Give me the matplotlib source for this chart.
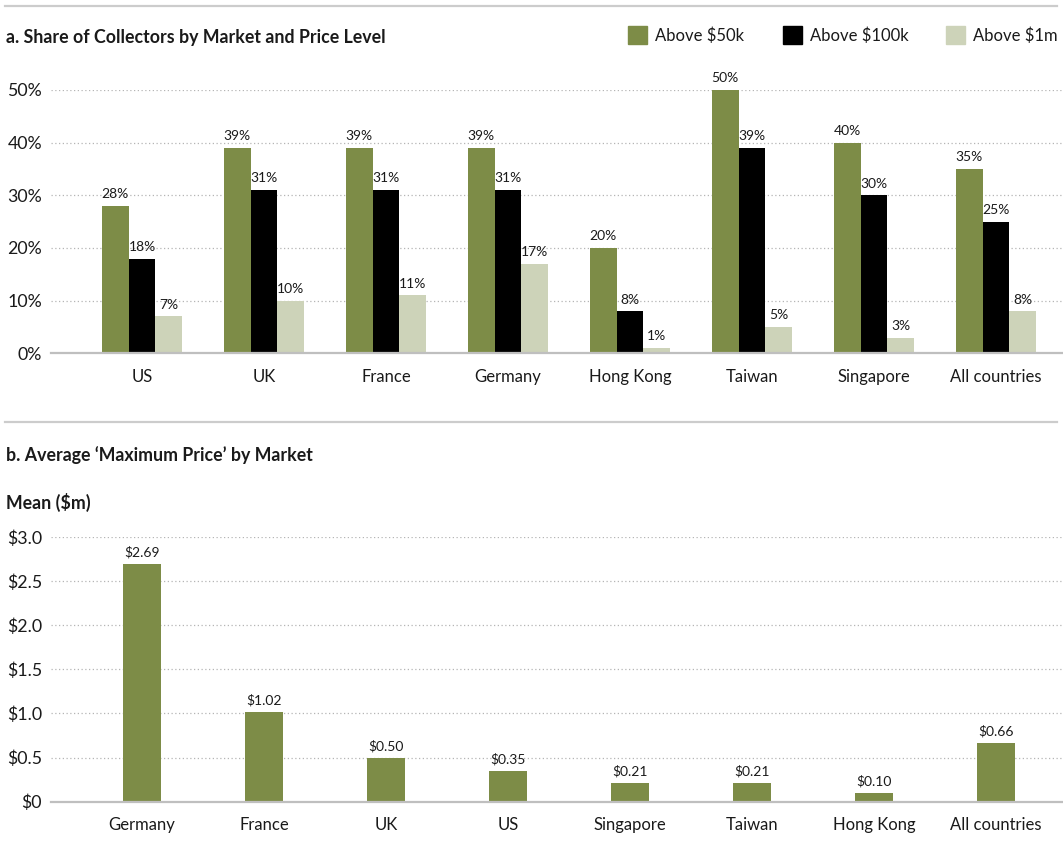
import matplotlib
matplotlib.use("Agg")
import matplotlib.pyplot as plt
import numpy as np
from matplotlib.patches import Rectangle
from matplotlib.lines import Line2D

plt.rcParams['font.family'] = ['Lato', 'DejaVu Sans']

# ---- data ----
markets_a = ["US", "UK", "France", "Germany", "Hong Kong", "Taiwan", "Singapore", "All countries"]
series_names = ["Above $50k", "Above $100k", "Above $1m"]
above_50k = [28, 39, 39, 39, 20, 50, 40, 35]
above_100k = [18, 31, 31, 31, 8, 39, 30, 25]
above_1m = [7, 10, 11, 17, 1, 5, 3, 8]
yticks_a = [0, 10, 20, 30, 40, 50]

markets_b = ["Germany", "France", "UK", "US", "Singapore", "Taiwan", "Hong Kong", "All countries"]
mean_price = [2.69, 1.02, 0.50, 0.35, 0.21, 0.21, 0.10, 0.66]
yticks_b = [0, 0.5, 1.0, 1.5, 2.0, 2.5, 3.0]

colors = ["#7d8c47", "#000000", "#cdd3b9"]
TXT = "#1a1a1a"
W, H = 1063, 865

fig = plt.figure(figsize=(W / 100, H / 100), dpi=100)

def fx(px):
    return px / W

def fy(py):
    return (H - py) / H

def style_axes(ax, yticks, labels):
    for s in ["top", "right", "left"]:
        ax.spines[s].set_visible(False)
    ax.spines["bottom"].set_color("#bfbfbf")
    ax.spines["bottom"].set_linewidth(1.6)
    ax.set_yticks(yticks)
    ax.set_yticklabels(labels)
    ax.tick_params(axis="both", length=0, colors=TXT)
    ax.tick_params(axis="y", pad=6.5, labelsize=12.8)
    ax.tick_params(axis="x", pad=11, labelsize=12)
    for t in yticks[1:]:
        ax.axhline(t, color="#b5b5b5", lw=0.9, ls=(0, (1, 2)), zorder=0)

# ---- panel a ----
spacing = 122.0
x0_px = 142.0
left_px = 51.0
xl = (-(x0_px - left_px) / spacing, (W - x0_px) / spacing)

axa = fig.add_axes([fx(left_px), fy(353.3), 1 - fx(left_px), fy(90) - fy(353.3)])
x = np.arange(len(markets_a))
bw = 0.219
series = [above_50k, above_100k, above_1m]
for i, (vals, c) in enumerate(zip(series, colors)):
    axa.bar(x + (i - 1) * bw, vals, width=bw, color=c, zorder=2)
    for xi, v in zip(x, vals):
        axa.annotate(f"{v}%", (xi + (i - 1) * bw, v), xytext=(0, 4), textcoords="offset points",
                     ha="center", va="bottom", fontsize=10, color=TXT, clip_on=False)
axa.set_xlim(*xl)
axa.set_ylim(0, 50)
axa.set_xticks(x)
axa.set_xticklabels(markets_a)
style_axes(axa, yticks_a, [f"{t}%" for t in yticks_a])

# ---- panel b ----
axb = fig.add_axes([fx(left_px), fy(801.7), 1 - fx(left_px), fy(537) - fy(801.7)])
xb = np.arange(len(markets_b))
axb.bar(xb, mean_price, width=0.31, color=colors[0], zorder=2)
for xi, v in zip(xb, mean_price):
    axb.annotate(f"${v:.2f}", (xi, v), xytext=(0, 4), textcoords="offset points",
                 ha="center", va="bottom", fontsize=10, color=TXT, clip_on=False)
axb.set_xlim(*xl)
axb.set_ylim(0, 3.0)
axb.set_xticks(xb)
axb.set_xticklabels(markets_b)
style_axes(axb, yticks_b, ["$0"] + [f"${t:.1f}" for t in yticks_b[1:]])

# ---- titles and rules ----
fig.add_artist(Line2D([fx(5), fx(1057)], [fy(6), fy(6)], color="#cccccc", lw=1.6))
fig.add_artist(Line2D([fx(5), fx(1057)], [fy(422), fy(422)], color="#cccccc", lw=1.6))
fig.text(fx(6), fy(37), "a. Share of Collectors by Market and Price Level", fontsize=12.8,
         fontweight="bold", color=TXT, va="center", ha="left")
fig.text(fx(6), fy(455), "b. Average \u2018Maximum Price\u2019 by Market", fontsize=12.8,
         fontweight="bold", color=TXT, va="center", ha="left")
fig.text(fx(6), fy(502), "Mean ($m)", fontsize=12.8,
         fontweight="bold", color=TXT, va="center", ha="left")

# ---- legend ----
leg_sq_x = [628, 783, 946]
for sx, name, c in zip(leg_sq_x, series_names, colors):
    fig.add_artist(Rectangle((fx(sx), fy(44)), fx(19), fy(26) - fy(44), color=c,
                             transform=fig.transFigure))
    fig.text(fx(sx + 27), fy(36), name, fontsize=12, color=TXT, va="center", ha="left")

fig.savefig("out.png", dpi=100, facecolor="white")
